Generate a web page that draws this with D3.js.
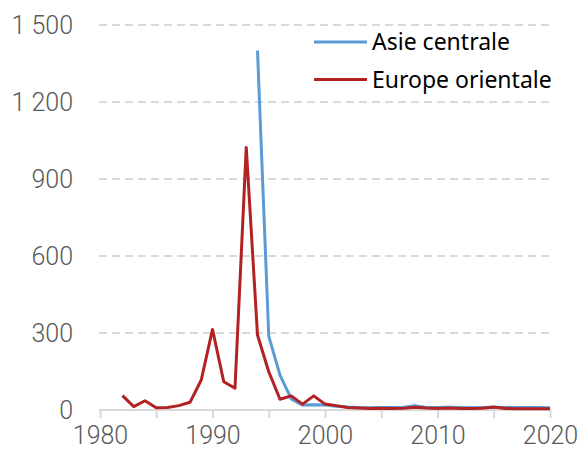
<!DOCTYPE html>
<html>
<head>
<meta charset="utf-8">
<script src="https://cdn.jsdelivr.net/npm/d3@7"></script>
<style>
  body { margin: 0; background: #fff; }
  svg { display: block; }
</style>
</head>
<body>
<div id="chart"></div>
<script>
// years for each series
const yearsEurope = [1982, 1983, 1984, 1985, 1986, 1987, 1988, 1989, 1990, 1991, 1992, 1993, 1994, 1995, 1996, 1997, 1998, 1999, 2000,
    2001, 2002, 2003, 2004, 2005, 2006, 2007, 2008, 2009, 2010, 2011, 2012, 2013, 2014, 2015, 2016, 2017, 2018, 2019, 2020];
const valuesEurope = [56, 13, 36, 9, 10, 17, 30, 117, 314, 110, 85, 1023, 292, 149, 42, 55, 23, 55, 23,
    17, 10, 8, 6, 7, 6, 7, 11, 8, 6, 8, 6, 6, 7, 12, 6, 5, 5, 5, 5];
const yearsAsie = [1994, 1995, 1996, 1997, 1998, 1999, 2000, 2001, 2002, 2003, 2004, 2005, 2006, 2007, 2008, 2009, 2010,
    2011, 2012, 2013, 2014, 2015, 2016, 2017, 2018, 2019, 2020];
const valuesAsie = [1400, 288, 136, 43, 19, 20, 19, 15, 12, 10, 9, 10, 10, 11, 17, 10, 10, 11, 10, 9, 10, 11, 10, 10, 10, 10, 9];

const seriesNames = ["Asie centrale", "Europe orientale"];
const seriesColors = ["#5b9bd5", "#b22222"];
const yTicks = [0, 300, 600, 900, 1200, 1500];
const xTicks = [1980, 1990, 2000, 2010, 2020];
const xMinorTicks = [1980, 1985, 1990, 1995, 2000, 2005, 2010, 2015, 2020];

const width = 582, height = 454;
const margin = {top: 25, right: 32, bottom: 44, left: 100};
const innerW = width - margin.left - margin.right;
const innerH = height - margin.top - margin.bottom;

const svg = d3.select("#chart").append("svg")
    .attr("width", width)
    .attr("height", height);

const g = svg.append("g")
    .attr("transform", `translate(${margin.left}, ${margin.top})`);

const x = d3.scaleLinear().domain([1980, 2020]).range([0, innerW]);
const y = d3.scaleLinear().domain([0, 1500]).range([innerH, 0]);

const fmt = d => d3.format(",")(d).replace(",", " ");
const labelFont = "'Helvetica Neue', Roboto, 'Liberation Sans', sans-serif";

// grid lines
g.selectAll(".grid")
    .data(yTicks.filter(d => d > 0))
    .enter().append("line")
    .attr("x1", -1)
    .attr("x2", innerW + 1)
    .attr("y1", d => y(d))
    .attr("y2", d => y(d))
    .attr("stroke", "#d9d9d9")
    .attr("stroke-width", 2)
    .attr("stroke-dasharray", "8,5");

// y labels
const yAxis = d3.axisLeft(y)
    .tickValues(yTicks)
    .tickSize(0)
    .tickPadding(27)
    .tickFormat(fmt);

g.append("g")
    .attr("class", "axis")
    .call(yAxis)
    .call(s => s.select(".domain").remove())
    .selectAll("text")
    .attr("font-family", labelFont)
    .attr("font-weight", 300)
    .attr("font-size", 25)
    .attr("fill", "#595959");

// x axis
const xAxis = d3.axisBottom(x)
    .tickValues(xMinorTicks)
    .tickSize(8)
    .tickPadding(8)
    .tickFormat(d => xTicks.includes(d) ? d : "");

const xg = g.append("g")
    .attr("class", "axis")
    .attr("transform", `translate(0, ${innerH})`)
    .call(xAxis);

xg.select(".domain")
    .attr("stroke", "#d9d9d9")
    .attr("stroke-width", 2)
    .attr("d", `M-1,0H${innerW + 1}`);

xg.selectAll(".tick line")
    .attr("stroke", "#d9d9d9")
    .attr("stroke-width", 2);

xg.selectAll("text")
    .attr("font-family", labelFont)
    .attr("font-weight", 300)
    .attr("font-size", 25)
    .attr("fill", "#595959");

// lines
const line = d3.line()
    .x(d => x(d[0]))
    .y(d => y(d[1]));

const series = [
    d3.zip(yearsAsie, valuesAsie),
    d3.zip(yearsEurope, valuesEurope)
];

g.selectAll(".series")
    .data(series)
    .enter().append("path")
    .attr("fill", "none")
    .attr("stroke", (d, i) => seriesColors[i])
    .attr("stroke-width", 3)
    .attr("stroke-linejoin", "round")
    .attr("d", line);

// legend
const legend = svg.append("g")
    .attr("transform", "translate(314, 42)");

const items = legend.selectAll("g")
    .data(seriesNames)
    .enter().append("g")
    .attr("transform", (d, i) => `translate(0, ${i * 37.5})`);

items.append("line")
    .attr("x1", 0)
    .attr("x2", 53)
    .attr("stroke", (d, i) => seriesColors[i])
    .attr("stroke-width", 3);

items.append("text")
    .attr("x", 58)
    .attr("y", 8)
    .attr("font-family", "'Noto Sans', sans-serif")
    .attr("font-size", 23)
    .attr("fill", "#000")
    .text(d => d);
</script>
</body>
</html>
